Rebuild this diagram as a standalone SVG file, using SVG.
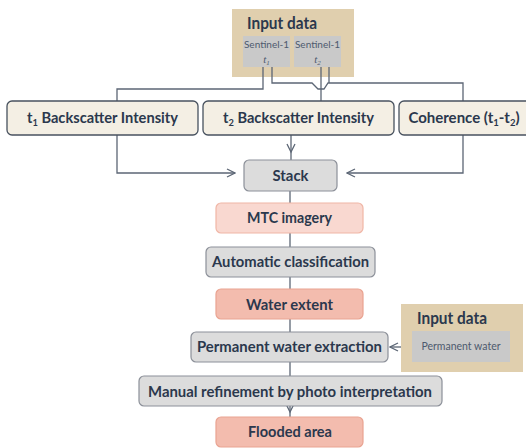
<svg xmlns="http://www.w3.org/2000/svg" width="526" height="448" viewBox="0 0 526 448">
<defs>
<style>
.lbl{font-family:Lato,"Open Sans","Liberation Sans",sans-serif;font-weight:bold;font-size:15px;fill:#2B384D;text-anchor:middle}
.sub{font-size:9.5px}
.small{font-family:Lato,"Open Sans","Liberation Sans",sans-serif;font-size:10px;fill:#4E5A6E;text-anchor:middle}
.ital{font-family:"Liberation Serif",serif;font-style:italic;font-size:11px;fill:#4E5A6E;text-anchor:middle}
.isub{font-size:7px}
.inp{fill:#E0CFAE}
.src{fill:#C9C9C9}
.cream{fill:#F4EFE4;stroke:#48525F;stroke-width:1.3}
.grey{fill:#DCDCDC;stroke:#8C9099;stroke-width:1.2}
.pink1{fill:#F9D8D0;stroke:#F0B6A6;stroke-width:1.2}
.pink2{fill:#F3BCAE;stroke:#E9A391;stroke-width:1.2}
.ln{fill:none;stroke:#5C6675;stroke-width:1.3}
</style>
<marker id="ah" viewBox="0 0 10 10" refX="9" refY="5" markerWidth="10" markerHeight="10" markerUnits="userSpaceOnUse" orient="auto">
<path d="M1,1 L9,5 L1,9" fill="none" stroke="#5C6675" stroke-width="1.3"/>
</marker>
<marker id="ah8" viewBox="0 0 18 10" refX="17" refY="5" markerWidth="18" markerHeight="10" markerUnits="userSpaceOnUse" orient="auto">
<path d="M1,1 L9,5 L1,9" fill="none" stroke="#5C6675" stroke-width="1.3"/>
</marker>
<marker id="ah5" viewBox="0 0 15 10" refX="14" refY="5" markerWidth="15" markerHeight="10" markerUnits="userSpaceOnUse" orient="auto">
<path d="M1,1 L9,5 L1,9" fill="none" stroke="#5C6675" stroke-width="1.3"/>
</marker>
</defs>
<rect width="526" height="448" fill="#FFFFFF"/>

<g id="input-top">
<rect class="inp" x="232" y="9" width="122" height="68"/>
<text class="lbl" x="247" y="29" style="text-anchor:start;font-size:17px" textLength="70" lengthAdjust="spacingAndGlyphs">Input data</text>
<g id="sentinel-t1">
<rect class="src" x="243" y="36" width="47" height="31"/>
<text class="small" x="266.5" y="48">Sentinel-1</text>
<text class="ital" x="266.5" y="63">t<tspan class="isub" dy="2">1</tspan></text>
</g>
<g id="sentinel-t2">
<rect class="src" x="294" y="36" width="47" height="31"/>
<text class="small" x="317.5" y="48">Sentinel-1</text>
<text class="ital" x="317.5" y="63">t<tspan class="isub" dy="2">2</tspan></text>
</g>
</g>

<g id="connectors">
<path class="ln" d="M263,67 V89 H117 V101"/>
<path class="ln" d="M272,67 V83 H312 L318,89 L324,89 L328,83 H463 V101"/>
<path class="ln" d="M329,67 V83"/>
<path class="ln" d="M321,67 V101"/>
<path class="ln" d="M117,135 V173 H235" marker-end="url(#ah)"/>
<path class="ln" d="M291,135 V160" marker-end="url(#ah8)"/>
<path class="ln" d="M463,135 V173 H347" marker-end="url(#ah)"/>
<path class="ln" d="M290,191 V203"/>
<path class="ln" d="M290,233 V247"/>
<path class="ln" d="M290,277 V289"/>
<path class="ln" d="M290,319 V332"/>
<path class="ln" d="M290,362 V376"/>
<path class="ln" d="M290,406 V417" marker-end="url(#ah5)"/>
<path class="ln" d="M412,347 H390" marker-end="url(#ah)"/>
</g>

<g id="t1-backscatter">
<rect class="cream" x="7" y="101" width="191" height="34" rx="5"/>
<text class="lbl" x="102.5" y="123" textLength="151" lengthAdjust="spacingAndGlyphs">t<tspan class="sub" dy="3">1</tspan><tspan dy="-3"> Backscatter Intensity</tspan></text>
</g>
<g id="t2-backscatter">
<rect class="cream" x="203" y="101" width="191" height="34" rx="5"/>
<text class="lbl" x="298.5" y="123" textLength="151" lengthAdjust="spacingAndGlyphs">t<tspan class="sub" dy="3">2</tspan><tspan dy="-3"> Backscatter Intensity</tspan></text>
</g>
<g id="coherence">
<rect class="cream" x="399" y="101" width="132" height="34" rx="5"/>
<text class="lbl" x="464" y="123">Coherence (t<tspan class="sub" dy="3">1</tspan><tspan dy="-3">-t</tspan><tspan class="sub" dy="3">2</tspan><tspan dy="-3">)</tspan></text>
</g>
<g id="stack">
<rect class="grey" x="244" y="160" width="93" height="31" rx="5"/>
<text class="lbl" x="290.5" y="181" textLength="36" lengthAdjust="spacingAndGlyphs">Stack</text>
</g>
<g id="mtc">
<rect class="pink1" x="216" y="203" width="147" height="30" rx="5"/>
<text class="lbl" x="289.5" y="223" textLength="85" lengthAdjust="spacingAndGlyphs">MTC imagery</text>
</g>
<g id="auto-class">
<rect class="grey" x="206" y="247" width="169" height="30" rx="5"/>
<text class="lbl" x="290.5" y="267" textLength="157" lengthAdjust="spacingAndGlyphs">Automatic classification</text>
</g>
<g id="water-extent">
<rect class="pink2" x="216" y="289" width="147" height="30" rx="5"/>
<text class="lbl" x="289.5" y="310" textLength="87" lengthAdjust="spacingAndGlyphs">Water extent</text>
</g>
<g id="perm-extraction">
<rect class="grey" x="191" y="332" width="197" height="30" rx="5"/>
<text class="lbl" x="289.5" y="352" textLength="185" lengthAdjust="spacingAndGlyphs">Permanent water extraction</text>
</g>
<g id="manual">
<rect class="grey" x="139" y="376" width="303" height="30" rx="5"/>
<text class="lbl" x="290" y="397" textLength="284" lengthAdjust="spacingAndGlyphs">Manual refinement by photo interpretation</text>
</g>
<g id="flooded">
<rect class="pink2" x="216" y="417" width="147" height="30" rx="5"/>
<text class="lbl" x="290" y="437" textLength="84" lengthAdjust="spacingAndGlyphs">Flooded area</text>
</g>
<g id="input-right">
<rect class="inp" x="401" y="304" width="122" height="68"/>
<text class="lbl" x="417" y="324" style="text-anchor:start;font-size:17px" textLength="70" lengthAdjust="spacingAndGlyphs">Input data</text>
<g id="permanent-water">
<rect class="src" x="412" y="331" width="98" height="31"/>
<text class="small" x="461" y="350" style="font-size:10.5px">Permanent water</text>
</g>
</g>
</svg>
